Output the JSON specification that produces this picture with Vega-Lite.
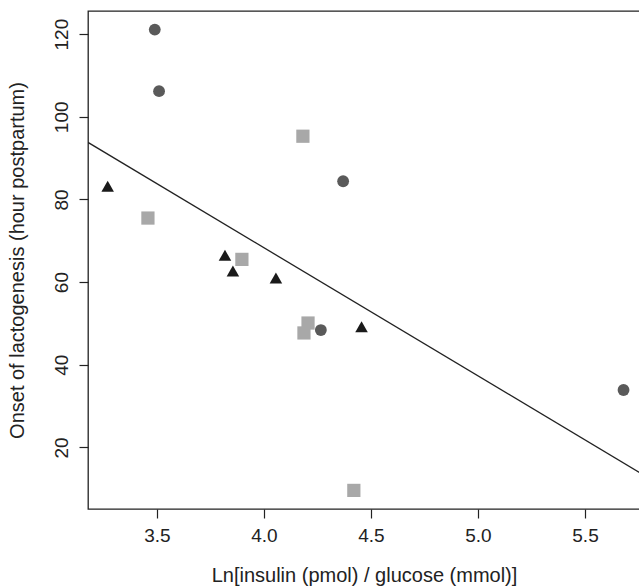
{
  "$schema": "https://vega.github.io/schema/vega-lite/v6.json",
  "width": 552,
  "height": 498,
  "autosize": {"type": "none"},
  "padding": {"left": 88, "top": 11, "right": 0, "bottom": 79},
  "background": "white",
  "config": {
    "view": {"stroke": "#222222", "strokeWidth": 1.3},
    "font": "Liberation Sans",
    "axis": {
      "domain": false,
      "grid": false,
      "tickColor": "#222222",
      "tickWidth": 1.2,
      "tickSize": 9,
      "labelFont": "Liberation Sans",
      "labelFontSize": 19,
      "labelColor": "#222222",
      "titleFont": "Liberation Sans",
      "titleFontSize": 20,
      "titleFontWeight": "normal",
      "titleColor": "#222222"
    }
  },
  "datasets": {
    "points": [
      {"x": 3.49, "y": 121.1, "group": "Group 1"},
      {"x": 3.51, "y": 106.2, "group": "Group 1"},
      {"x": 4.37, "y": 84.4, "group": "Group 1"},
      {"x": 4.266, "y": 48.4, "group": "Group 1"},
      {"x": 5.68, "y": 33.9, "group": "Group 1"},
      {"x": 3.27, "y": 83.2, "group": "Group 2"},
      {"x": 3.818, "y": 66.5, "group": "Group 2"},
      {"x": 3.855, "y": 62.7, "group": "Group 2"},
      {"x": 4.056, "y": 61.0, "group": "Group 2"},
      {"x": 4.456, "y": 49.2, "group": "Group 2"},
      {"x": 3.458, "y": 75.5, "group": "Group 3"},
      {"x": 3.897, "y": 65.5, "group": "Group 3"},
      {"x": 4.182, "y": 95.3, "group": "Group 3"},
      {"x": 4.206, "y": 50.1, "group": "Group 3"},
      {"x": 4.187, "y": 47.7, "group": "Group 3"},
      {"x": 4.42, "y": 9.6, "group": "Group 3"}
    ],
    "fit": [
      {"x": 3.178, "y": 93.8},
      {"x": 5.757, "y": 13.85}
    ]
  },
  "layer": [
    {
      "data": {"name": "fit"},
      "mark": {"type": "line", "color": "#222222", "strokeWidth": 1.3, "clip": true},
      "encoding": {
        "x": {
          "field": "x", "type": "quantitative",
          "scale": {"domain": [3.178, 5.757], "nice": false, "zero": false},
          "axis": {"values": [3.5, 4.0, 4.5, 5.0, 5.5], "format": ".1f", "labelPadding": 8, "titlePadding": 20, "title": "Ln[insulin (pmol) / glucose (mmol)]"}
        },
        "y": {
          "field": "y", "type": "quantitative",
          "scale": {"domain": [5.1, 125.6], "nice": false, "zero": false},
          "axis": {"values": [20, 40, 60, 80, 100, 120], "labelAngle": -90, "labelPadding": 8, "titlePadding": 25, "title": "Onset of lactogenesis (hour postpartum)"}
        }
      }
    },
    {
      "data": {"name": "points"},
      "mark": {"type": "point", "filled": true, "opacity": 1, "strokeWidth": 0},
      "encoding": {
        "x": {"field": "x", "type": "quantitative"},
        "y": {"field": "y", "type": "quantitative"},
        "shape": {
          "field": "group", "type": "nominal",
          "scale": {"domain": ["Group 1", "Group 2", "Group 3"], "range": ["circle", "triangle-up", "square"]},
          "legend": null
        },
        "color": {
          "field": "group", "type": "nominal",
          "scale": {"domain": ["Group 1", "Group 2", "Group 3"], "range": ["#5a5a5a", "#1a1a1a", "#a8a8a8"]},
          "legend": null
        },
        "size": {
          "field": "group", "type": "nominal",
          "scale": {"domain": ["Group 1", "Group 2", "Group 3"], "range": [140, 175, 120]},
          "legend": null
        }
      }
    }
  ]
}
